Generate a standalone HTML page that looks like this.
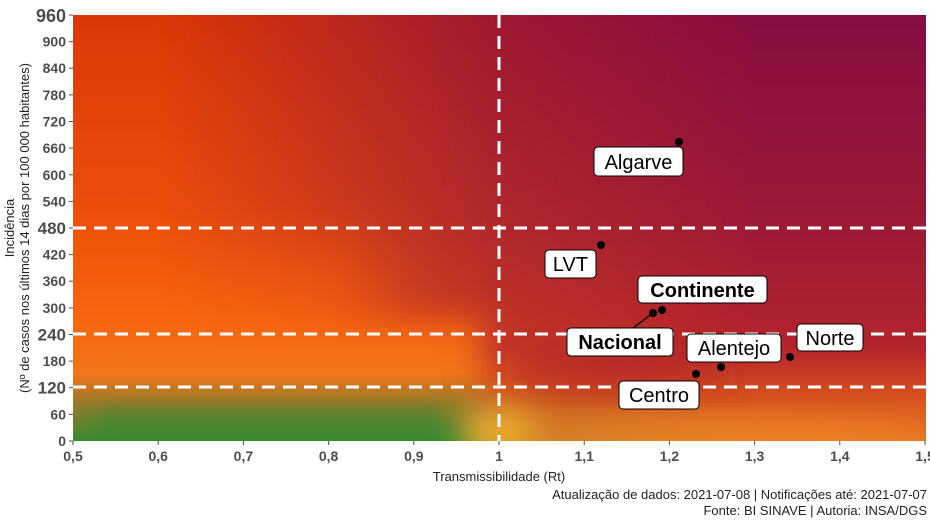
<!DOCTYPE html>
<html><head><meta charset="utf-8"><style>
body{margin:0;background:#fff;width:930px;height:523px;overflow:hidden;font-family:"Liberation Sans",Arial,sans-serif}
</style></head><body>
<svg width="930" height="523" viewBox="0 0 930 523" xmlns="http://www.w3.org/2000/svg" style="position:absolute;left:0;top:0">
<defs>
<linearGradient id="gl" x1="0" y1="0" x2="0" y2="1">
<stop offset="0" stop-color="#dc3806"/>
<stop offset="0.45" stop-color="#ec4e0a"/>
<stop offset="0.7" stop-color="#f6640e"/>
<stop offset="0.84" stop-color="#f47418"/>
<stop offset="0.91" stop-color="#9a7a2a"/>
<stop offset="1" stop-color="#3a8a32"/>
</linearGradient>
<linearGradient id="gr" x1="0" y1="0" x2="0" y2="1">
<stop offset="0" stop-color="#880d40"/>
<stop offset="0.5" stop-color="#9c1a36"/>
<stop offset="0.78" stop-color="#b4242c"/>
<stop offset="0.88" stop-color="#d24a1e"/>
<stop offset="1" stop-color="#e87a22"/>
</linearGradient>
<linearGradient id="mk" x1="0" y1="0" x2="1" y2="0">
<stop offset="0.1" stop-color="#fff" stop-opacity="0"/>
<stop offset="0.5" stop-color="#fff" stop-opacity="0.75"/>
<stop offset="0.8" stop-color="#fff" stop-opacity="1"/>
</linearGradient>
<mask id="m" maskUnits="userSpaceOnUse" x="0" y="0" width="930" height="523">
<rect x="73" y="15" width="853" height="426" fill="url(#mk)"/>
<rect x="40" y="320" width="440" height="160" fill="#000" filter="url(#b)"/>
<rect x="40" y="250" width="330" height="100" fill="#000" filter="url(#bb)" opacity="0.7"/>
</mask>
<filter id="b" x="-50%" y="-50%" width="200%" height="200%"><feGaussianBlur stdDeviation="16"/></filter>
<filter id="bb" x="-50%" y="-50%" width="200%" height="200%"><feGaussianBlur stdDeviation="30"/></filter>
<filter id="b2" x="-50%" y="-50%" width="200%" height="200%"><feGaussianBlur stdDeviation="10"/></filter>
<clipPath id="c"><rect x="73" y="15" width="853" height="426"/></clipPath>
</defs>
<g clip-path="url(#c)">
<rect x="73" y="15" width="853" height="426" fill="url(#gl)"/>
<rect x="73" y="15" width="853" height="426" fill="url(#gr)" mask="url(#m)"/>
<ellipse cx="620" cy="368" rx="110" ry="20" fill="#b0202c" filter="url(#b)" opacity="0.7"/>
<ellipse cx="500" cy="432" rx="40" ry="25" fill="#f0b030" filter="url(#b)" opacity="0.9"/>
<ellipse cx="720" cy="435" rx="200" ry="16" fill="#f08a26" filter="url(#b)" opacity="0.6"/>
<rect x="95" y="410" width="350" height="40" fill="#3b8a32" filter="url(#b2)" opacity="0.6"/>
</g>
<g stroke="#fff" stroke-width="3" stroke-dasharray="13,8" fill="none">
<line x1="73" y1="228" x2="926" y2="228"/>
<line x1="73" y1="334" x2="926" y2="334"/>
<line x1="73" y1="387" x2="926" y2="387"/>
<line x1="499" y1="15" x2="499" y2="441"/>
</g>
<g stroke="#4d4d4d" stroke-width="1">
<line x1="69" y1="15" x2="73" y2="15"/><line x1="69" y1="41.6" x2="73" y2="41.6"/><line x1="69" y1="68.2" x2="73" y2="68.2"/><line x1="69" y1="94.9" x2="73" y2="94.9"/><line x1="69" y1="121.5" x2="73" y2="121.5"/><line x1="69" y1="148.1" x2="73" y2="148.1"/><line x1="69" y1="174.8" x2="73" y2="174.8"/><line x1="69" y1="201.4" x2="73" y2="201.4"/><line x1="69" y1="228" x2="73" y2="228"/><line x1="69" y1="254.6" x2="73" y2="254.6"/><line x1="69" y1="281.2" x2="73" y2="281.2"/><line x1="69" y1="307.9" x2="73" y2="307.9"/><line x1="69" y1="334.5" x2="73" y2="334.5"/><line x1="69" y1="361.1" x2="73" y2="361.1"/><line x1="69" y1="387.7" x2="73" y2="387.7"/><line x1="69" y1="414.4" x2="73" y2="414.4"/><line x1="69" y1="441" x2="73" y2="441"/>
<line x1="73" y1="441" x2="73" y2="445"/><line x1="158.2" y1="441" x2="158.2" y2="445"/><line x1="243.4" y1="441" x2="243.4" y2="445"/><line x1="328.6" y1="441" x2="328.6" y2="445"/><line x1="413.8" y1="441" x2="413.8" y2="445"/><line x1="499" y1="441" x2="499" y2="445"/><line x1="584.2" y1="441" x2="584.2" y2="445"/><line x1="669.4" y1="441" x2="669.4" y2="445"/><line x1="754.6" y1="441" x2="754.6" y2="445"/><line x1="839.8" y1="441" x2="839.8" y2="445"/><line x1="925" y1="441" x2="925" y2="445"/>
</g>
<g font-family="Liberation Sans, Arial, sans-serif" font-weight="bold" fill="#4d4d4d" font-size="14" text-anchor="end">
<text x="66" y="22" font-size="18">960</text>
<text x="66" y="46.6">900</text><text x="66" y="73.2">840</text><text x="66" y="99.9">780</text><text x="66" y="126.5">720</text><text x="66" y="153.1">660</text><text x="66" y="179.8">600</text><text x="66" y="206.4">540</text>
<text x="66" y="234" font-size="17">480</text>
<text x="66" y="259.6">420</text><text x="66" y="286.2">360</text><text x="66" y="312.9">300</text>
<text x="66" y="340.5" font-size="17">240</text>
<text x="66" y="366.1">180</text>
<text x="66" y="393.7" font-size="17">120</text>
<text x="66" y="419.4">60</text><text x="66" y="446">0</text>
</g>
<g font-family="Liberation Sans, Arial, sans-serif" font-weight="bold" fill="#4d4d4d" font-size="14" text-anchor="middle">
<text x="73" y="461">0,5</text><text x="158.2" y="461">0,6</text><text x="243.4" y="461">0,7</text><text x="328.6" y="461">0,8</text><text x="413.8" y="461">0,9</text><text x="499" y="461">1</text><text x="584.2" y="461">1,1</text><text x="669.4" y="461">1,2</text><text x="754.6" y="461">1,3</text><text x="839.8" y="461">1,4</text><text x="925" y="461">1,5</text>
</g>
<text x="499" y="481" text-anchor="middle" font-size="13" fill="#222" font-family="Liberation Sans, Arial, sans-serif">Transmissibilidade (Rt)</text>
<g transform="translate(14,228) rotate(-90)" font-size="13" fill="#222" font-family="Liberation Sans, Arial, sans-serif" text-anchor="middle">
<text x="0" y="0">Incidência</text>
<text x="0" y="15">(Nº de casos nos últimos 14 dias por 100 000 habitantes)</text>
</g>
<g font-size="13" fill="#222" font-family="Liberation Sans, Arial, sans-serif" text-anchor="end">
<text x="927" y="499">Atualização de dados: 2021-07-08 | Notificações até: 2021-07-07</text>
<text x="927" y="515">Fonte: BI SINAVE | Autoria: INSA/DGS</text>
</g>
<line x1="653" y1="313" x2="633" y2="328" stroke="#000" stroke-width="1.2"/>
<g fill="#000">
<circle cx="679" cy="142" r="4"/><circle cx="601" cy="245" r="4"/><circle cx="662" cy="310" r="4"/><circle cx="653" cy="313" r="4"/><circle cx="696" cy="374" r="4"/><circle cx="721" cy="367" r="4"/><circle cx="790" cy="357" r="4"/>
</g>
<g fill="#fff" stroke="#000" stroke-width="1">
<rect x="594" y="147" width="89" height="29" rx="4"/>
<rect x="545" y="250" width="51" height="28" rx="4"/>
<rect x="638" y="276" width="129" height="27" rx="4"/>
<rect x="567" y="328" width="106" height="28" rx="4"/>
<rect x="687" y="334" width="94" height="28" rx="4"/>
<rect x="797" y="324" width="66" height="27" rx="4"/>
<rect x="619" y="381" width="80" height="28" rx="4"/>
</g>
<g font-family="Liberation Sans, Arial, sans-serif" font-size="20" fill="#000" text-anchor="middle">
<text x="638.5" y="169">Algarve</text>
<text x="570.5" y="271">LVT</text>
<text x="702.5" y="297" font-weight="bold">Continente</text>
<text x="620" y="349" font-weight="bold">Nacional</text>
<text x="734" y="355">Alentejo</text>
<text x="830" y="345">Norte</text>
<text x="659" y="402">Centro</text>
</g>
</svg>
</body></html>
